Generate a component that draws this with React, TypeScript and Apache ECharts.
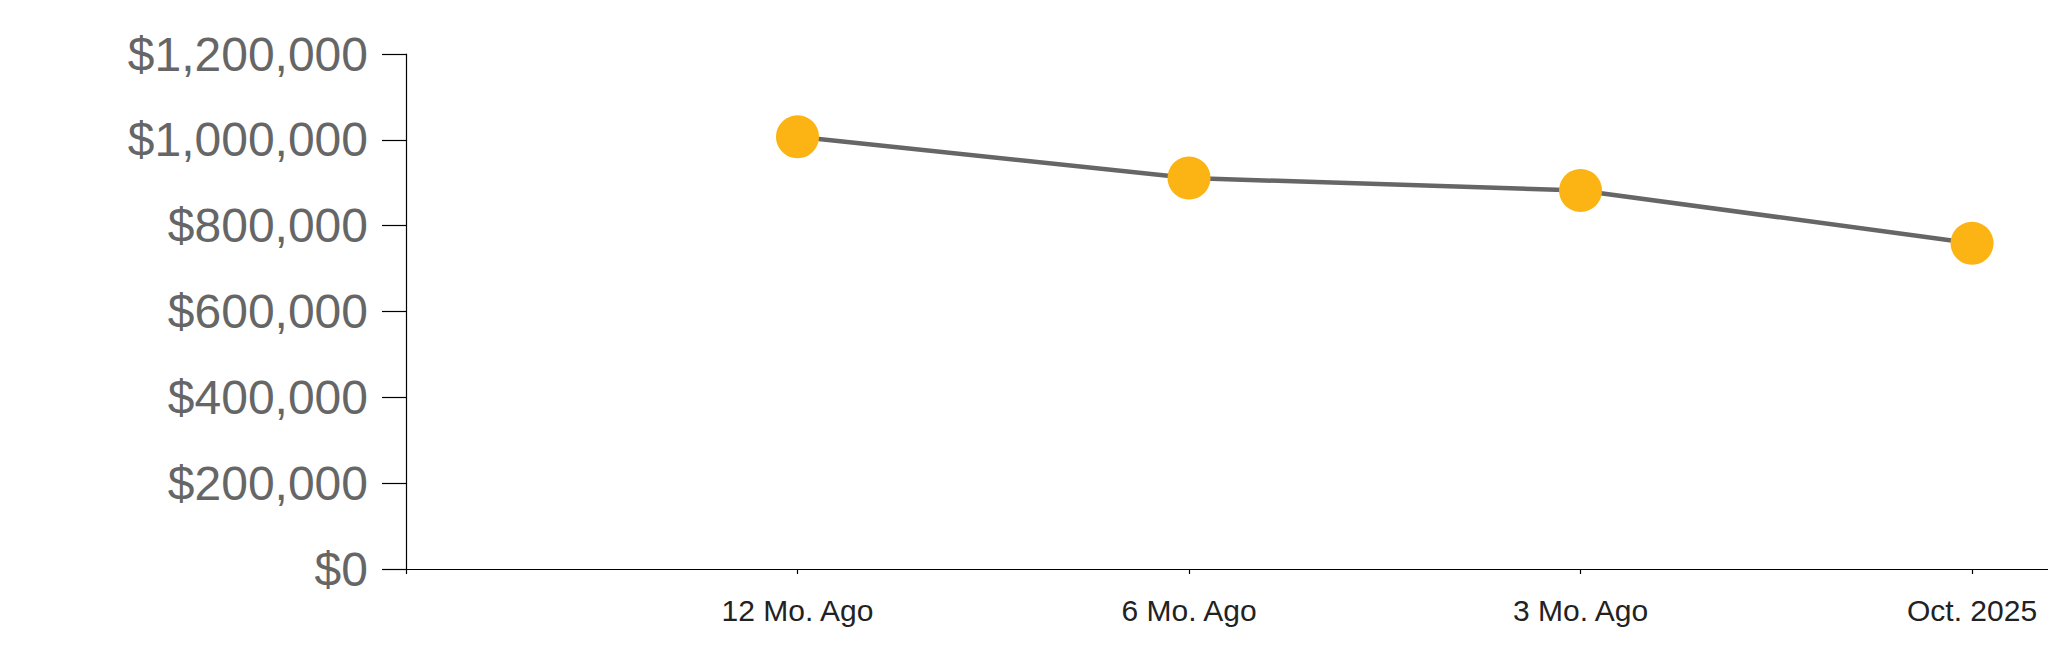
import React, { useEffect, useRef } from "react";
import * as echarts from "echarts";

const categories = ["12 Mo. Ago", "6 Mo. Ago", "3 Mo. Ago", "Oct. 2025"];
const values = [1007000, 911000, 882000, 759000];
const yTicks = { min: 0, max: 1200000, interval: 200000 };

export default function App() {
  const ref = useRef<HTMLDivElement>(null);
  useEffect(() => {
    if (!ref.current) return;
    const chart = echarts.init(ref.current, null, { renderer: "svg" });
    const data = values.map((v, i) => [i + 1, v]);
    chart.setOption({
      animation: false,
      grid: { left: 406, right: 0, top: 54, bottom: 94, containLabel: false },
      xAxis: {
        type: "value",
        min: 0,
        max: 4.194,
        interval: 1,
        splitLine: { show: false },
        axisLine: { show: true, lineStyle: { color: "#000", width: 1.2 } },
        axisTick: { show: true, length: 5, lineStyle: { color: "#000", width: 1.2 } },
        axisLabel: {
          margin: 26,
          fontSize: 30,
          color: "#222",
          fontFamily: "Liberation Sans, Arial, sans-serif",
          showMaxLabel: false,
          formatter: (v: number) => {
            const i = Math.round(v);
            return Math.abs(v - i) < 1e-6 && i >= 1 && i <= categories.length ? categories[i - 1] : "";
          },
        },
      },
      yAxis: {
        type: "value",
        min: yTicks.min,
        max: yTicks.max,
        interval: yTicks.interval,
        splitLine: { show: false },
        axisLine: { show: true, lineStyle: { color: "#000", width: 1.2 } },
        axisTick: { show: true, length: 24, lineStyle: { color: "#000", width: 1.2 } },
        axisLabel: {
          margin: 38,
          fontSize: 48,
          color: "#666",
          fontFamily: "Liberation Sans, Arial, sans-serif",
          formatter: (v: number) => "$" + v.toLocaleString("en-US"),
        },
      },
      series: [
        {
          type: "line",
          data,
          symbol: "circle",
          symbolSize: 43,
          lineStyle: { color: "#666", width: 4.5 },
          itemStyle: { color: "#FCB415", borderWidth: 0 },
        },
      ],
    });
    return () => chart.dispose();
  }, []);
  return (
    <div
      ref={ref}
      style={{ position: "fixed", left: 0, top: 0, width: 2048, height: 663, background: "#fff" }}
    />
  );
}
